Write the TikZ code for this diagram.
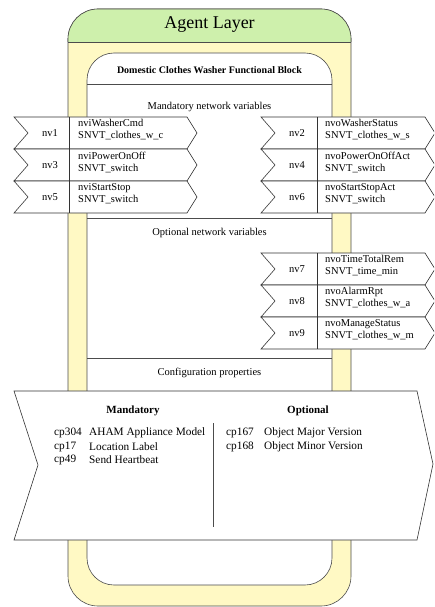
\documentclass[tikz,border=0pt]{standalone}
\usepackage{fontspec}
\setmainfont{Liberation Serif}
\usepackage{tikz}
\usetikzlibrary{positioning}
\definecolor{layeryellow}{RGB}{255,249,196}
\definecolor{layergreen}{RGB}{206,240,172}

\begin{document}
\begin{tikzpicture}[
  x=1pt, y=-1pt,
  frame/.style={draw=black!70, line width=0.6pt},
  nvbox/.style={draw=black!80, fill=white, line width=0.6pt},
  nvtext/.style={font=\fontsize{10.5}{12}\selectfont, inner sep=0pt, align=left},
  section/.style={font=\fontsize{10.5}{12}\selectfont, inner sep=0pt},
  cptext/.style={font=\fontsize{11.3}{13.5}\selectfont, inner sep=0pt, anchor=west}
]
\clip (0,0) rectangle (434,607);

% agent layer frame
\draw[frame, fill=layeryellow, rounded corners=30pt] (68,9) rectangle (351,606);
\begin{scope}
  \clip (60,0) rectangle (360,42);
  \fill[layergreen, rounded corners=30pt] (68,9) rectangle (351,606);
  \draw[frame, rounded corners=30pt] (68,9) rectangle (351,606);
\end{scope}
\draw[frame] (68,42) -- (351,42);
\node[font=\fontsize{18}{20}\selectfont, inner sep=0pt] (layer) at (209.5,25) {Agent Layer};

% functional block
\draw[frame, fill=white, rounded corners=27pt] (87,53) rectangle (332,585);
\draw[frame] (87,84) -- (332,84);
\draw[frame] (87,218) -- (332,218);
\draw[frame] (87,358) -- (332,358);
\node[font=\fontsize{10}{12}\selectfont\bfseries, inner sep=0pt] (block) at (209.5,70) {Domestic Clothes Washer Functional Block};
\node[section] (mandnv) at (209.5,107) {Mandatory network variables};
\node[section] (optnv) at (209.5,233) {Optional network variables};
\node[section] (config) at (209.5,373) {Configuration properties};

% input network variables
\foreach \t/\n/\nm/\ty in {117/1/nviWasherCmd/SNVT\_clothes\_w\_c,
                          149/3/nviPowerOnOff/SNVT\_switch,
                          181/5/nviStartStop/SNVT\_switch} {
  \draw[nvbox] (14,\t) -- (187,\t) -- (197,{\t+16}) -- (187,{\t+32}) -- (14,{\t+32}) -- (28,{\t+16}) -- cycle;
  \draw[nvbox] (69,\t) -- (69,{\t+32});
  \node[nvtext] (nv\n) at (50,{\t+16}) {nv\n};
  \node[nvtext, anchor=north west] (nv\n-name) at (78,{\t+2.5}) {\nm\\\ty};
}

% output network variables
\foreach \t/\n/\nm/\ty in {117/2/nvoWasherStatus/SNVT\_clothes\_w\_s,
                          149/4/nvoPowerOnOffAct/SNVT\_switch,
                          181/6/nvoStartStopAct/SNVT\_switch,
                          253/7/nvoTimeTotalRem/SNVT\_time\_min,
                          285/8/nvoAlarmRpt/SNVT\_clothes\_w\_a,
                          317/9/nvoManageStatus/SNVT\_clothes\_w\_m} {
  \draw[nvbox] (261,\t) -- (425,\t) -- (435,{\t+16}) -- (425,{\t+32}) -- (261,{\t+32}) -- (275,{\t+16}) -- cycle;
  \draw[nvbox] (317,\t) -- (317,{\t+32});
  \node[nvtext] (nv\n) at (297,{\t+16}) {nv\n};
  \node[nvtext, anchor=north west] (nv\n-name) at (325,{\t+2.5}) {\nm\\\ty};
}

% configuration properties
\draw[nvbox] (14,391) -- (417,391) -- (433,464) -- (417,540) -- (14,540) -- (38,465) -- cycle;
\draw[frame] (213,423) -- (213,527);
\node[font=\fontsize{11}{13}\selectfont\bfseries, inner sep=0pt] (mandcp) at (133,411) {Mandatory};
\node[font=\fontsize{11}{13}\selectfont\bfseries, inner sep=0pt] (optcp) at (308,411) {Optional};
\foreach \y/\cp/\desc in {433/cp304/AHAM Appliance Model, 447/cp17/Location Label, 460/cp49/Send Heartbeat} {
  \node[cptext] (\cp) at (54,\y) {\cp};
  \node[cptext] (\cp-desc) at (89,\y) {\desc};
}
\foreach \y/\cp/\desc in {433/cp167/Object Major Version, 447/cp168/Object Minor Version} {
  \node[cptext] (\cp) at (226,\y) {\cp};
  \node[cptext] (\cp-desc) at (264,\y) {\desc};
}
\end{tikzpicture}
\end{document}
